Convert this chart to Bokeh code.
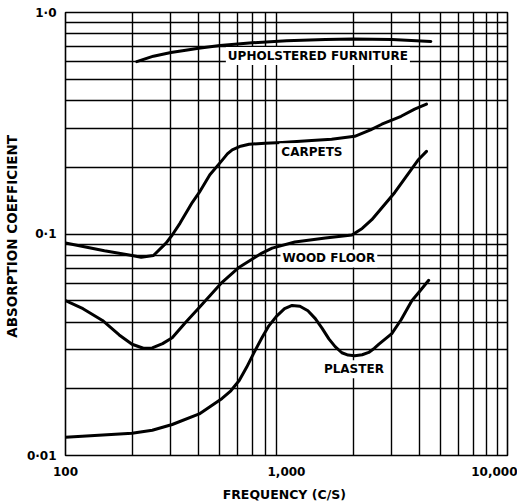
from bokeh.plotting import figure
from bokeh.models import Range1d, FixedTicker, Label
from bokeh.embed import file_html
from bokeh.resources import INLINE

# ---- data ----
uph_freq = [210, 250, 300, 350, 400, 500, 700, 1000, 1500, 2000, 3000, 4500]
uph_abs = [0.60, 0.635, 0.66, 0.675, 0.69, 0.71, 0.73, 0.745, 0.755, 0.76, 0.755, 0.74]

carpet_freq = [100, 150, 200, 220, 250, 285, 304, 330, 375, 403, 450, 511, 540, 568, 620,
               677, 800, 955, 1300, 1600, 2036, 2400, 2700, 3300, 3800, 4300]
carpet_abs = [0.091, 0.084, 0.080, 0.0785, 0.080, 0.091, 0.099, 0.112, 0.139, 0.154, 0.185,
              0.215, 0.230, 0.240, 0.249, 0.254, 0.257, 0.259, 0.264, 0.268, 0.276, 0.295,
              0.313, 0.340, 0.366, 0.386]

wood_freq = [100, 120, 147, 175, 200, 225, 247, 275, 304, 350, 403, 511, 611, 774, 861,
             1091, 1500, 1977, 2200, 2432, 3090, 3960, 4300]
wood_abs = [0.050, 0.046, 0.0407, 0.035, 0.0318, 0.0305, 0.0306, 0.032, 0.034, 0.040,
            0.0466, 0.0605, 0.0708, 0.082, 0.0863, 0.092, 0.096, 0.099, 0.106, 0.116, 0.154,
            0.217, 0.236]

plaster_freq = [100, 200, 247, 304, 403, 511, 560, 611, 660, 711, 774, 832, 900, 980, 1060,
                1150, 1250, 1350, 1450, 1555, 1660, 1780, 1900, 2036, 2200, 2355, 2500,
                2620, 2995, 3300, 3690, 4000, 4400]
plaster_abs = [0.0121, 0.0126, 0.0130, 0.0138, 0.0154, 0.0181, 0.0196, 0.0218, 0.0250,
               0.0290, 0.0340, 0.0385, 0.0425, 0.0460, 0.0476, 0.0472, 0.0450, 0.0415,
               0.0375, 0.0336, 0.0310, 0.0291, 0.0284, 0.0282, 0.0285, 0.0292, 0.0305,
               0.0318, 0.0355, 0.0410, 0.0500, 0.0550, 0.0618]

curve_names = ["UPHOLSTERED FURNITURE", "CARPETS", "WOOD FLOOR", "PLASTER"]
label_freq = [1387, 1303, 1555, 2018]
label_abs = [0.637, 0.234, 0.0776, 0.0245]

x_grid_ticks = [100, 200, 300, 400, 500, 600, 700, 800, 900,
                2000, 3000, 4000, 5000, 6000, 7000, 8000, 9000, 10000]
y_grid_ticks = [0.01, 0.02, 0.03, 0.04, 0.05, 0.06, 0.07, 0.08, 0.09,
                0.1, 0.2, 0.3, 0.4, 0.5, 0.6, 0.7, 0.8, 0.9, 1.0]
x_tick_values = [100, 1000, 10000]
x_tick_labels = ["100", "1,000", "10,000"]
y_tick_values = [0.01, 0.1, 1.0]
y_tick_labels = ["0·01", "0·1", "1·0"]

FONT = "DejaVu Sans"

p = figure(x_axis_type="log", y_axis_type="log",
           x_range=Range1d(100, 10000), y_range=Range1d(0.01, 1.0),
           frame_width=442, frame_height=443,
           min_border_left=52, min_border_right=10, min_border_top=12, min_border_bottom=40,
           output_backend="svg", toolbar_location=None)

p.background_fill_color = "white"
p.border_fill_color = "white"
p.outline_line_color = "black"
p.outline_line_width = 1.6

for g, ticks in ((p.xgrid, x_grid_ticks), (p.ygrid, y_grid_ticks)):
    g.ticker = FixedTicker(ticks=ticks)
    g.grid_line_color = "black"
    g.grid_line_width = 1.4
    g.grid_line_alpha = 1.0

p.xaxis.ticker = FixedTicker(ticks=x_tick_values)
p.xaxis.major_label_overrides = {v: t for v, t in zip(x_tick_values, x_tick_labels)}
p.yaxis.ticker = FixedTicker(ticks=y_tick_values)
p.yaxis.major_label_overrides = {v: t for v, t in zip(y_tick_values, y_tick_labels)}

for ax in (p.xaxis, p.yaxis):
    ax.axis_line_color = None
    ax.major_tick_line_color = None
    ax.minor_tick_line_color = None
    ax.major_label_text_font = FONT
    ax.major_label_text_font_style = "bold"
    ax.major_label_text_font_size = "12px"
    ax.major_label_text_color = "black"
    ax.axis_label_text_font = FONT
    ax.axis_label_text_font_style = "bold"
    ax.axis_label_text_color = "black"

p.xaxis.axis_label_text_font_size = "12.5px"
p.yaxis.axis_label_text_font_size = "13.5px"
p.xaxis.axis_label = "FREQUENCY  (C/S)"
p.yaxis.axis_label = "ABSORPTION  COEFFICIENT"
p.xaxis.major_label_standoff = 5
p.xaxis.axis_label_standoff = 8
p.yaxis.major_label_standoff = 3
p.yaxis.axis_label_standoff = 4

for fx, fy in ((uph_freq, uph_abs), (carpet_freq, carpet_abs),
               (wood_freq, wood_abs), (plaster_freq, plaster_abs)):
    p.line(fx, fy, line_color="black", line_width=3, line_join="round", line_cap="round")

for name, lx, ly in zip(curve_names, label_freq, label_abs):
    p.add_layout(Label(x=lx, y=ly, text=name, text_align="center", text_baseline="middle",
                       text_font=FONT, text_font_style="bold", text_font_size="12px",
                       text_color="black", background_fill_color="white", padding=2))

open("out.html", "w").write(file_html(p, INLINE))
